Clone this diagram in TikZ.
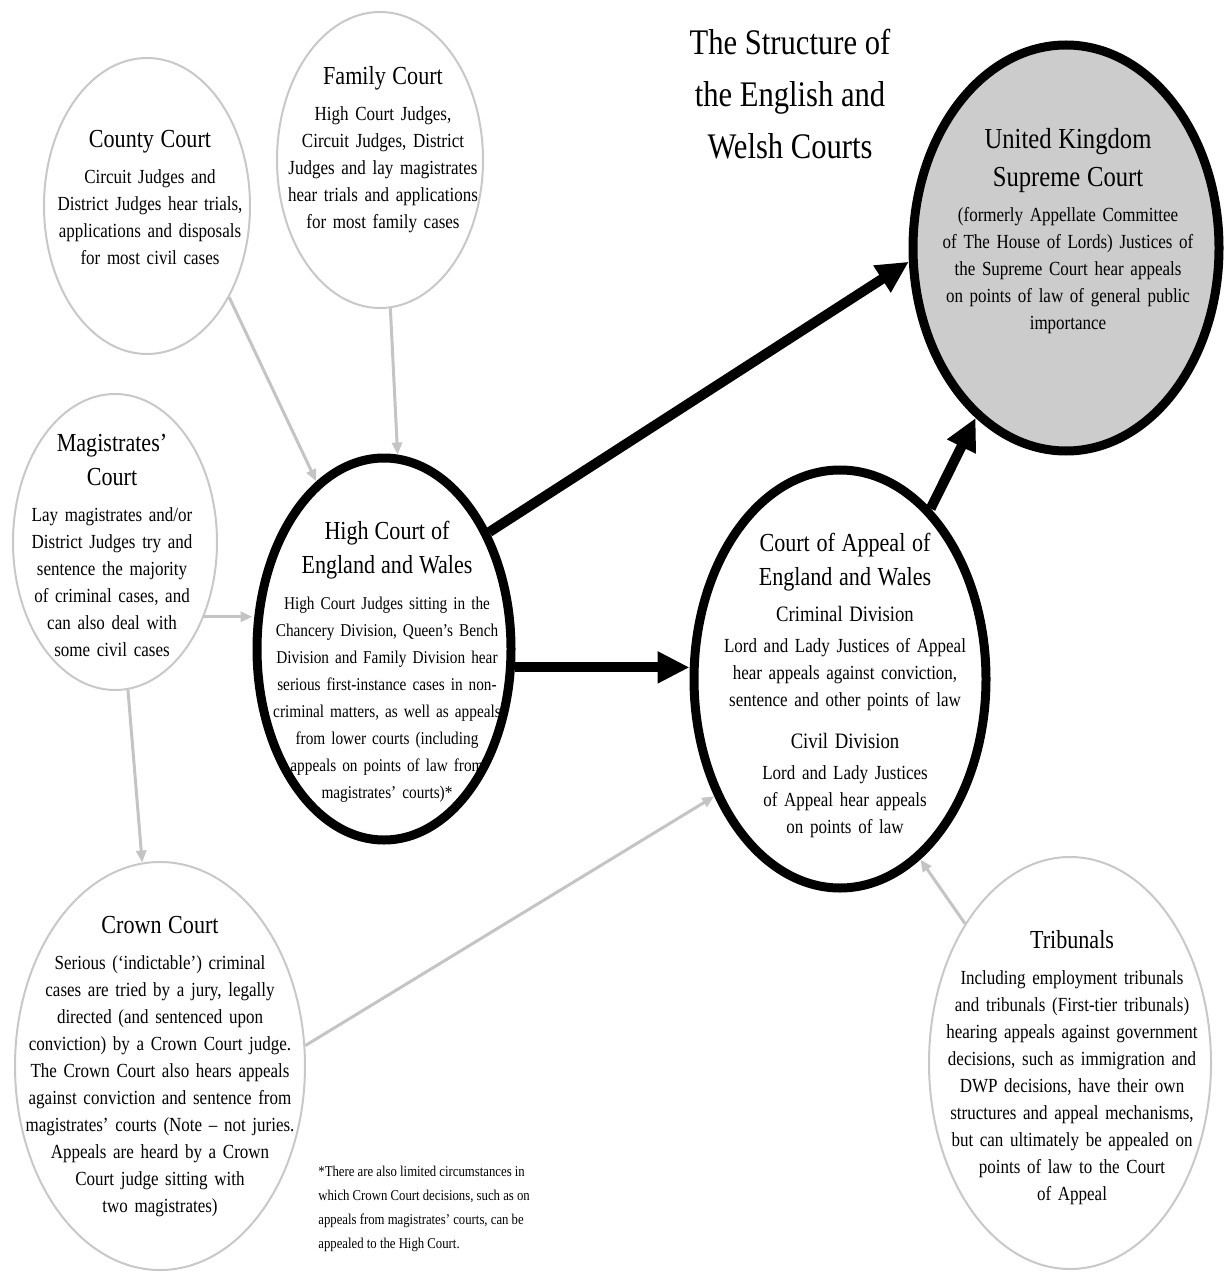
\documentclass[tikz,border=0pt]{standalone}
\usepackage{fontspec}
\setmainfont{Liberation Serif}[FakeStretch=0.85]
\usepackage{tikz}
\usetikzlibrary{shapes.geometric}
\usetikzlibrary{arrows.meta}

\definecolor{courtgrey}{RGB}{200,200,200}
\definecolor{linkgrey}{RGB}{196,196,196}
\definecolor{supremegrey}{RGB}{204,204,204}

\newcommand{\courtname}[1]{{\fontsize{13}{17}\selectfont #1\par}\vspace{4.5pt}}
\newcommand{\division}[1]{{\fontsize{11}{13.5}\selectfont #1\par}\vspace{2pt}}

\begin{document}
\begin{tikzpicture}
		[x=0.5pt, y=-0.5pt,
		court/.style={ellipse, draw=courtgrey, line width=1pt, inner sep=0pt},
		bigcourt/.style={ellipse, draw=black, line width=4.5pt, inner sep=0pt},
		courttext/.style={align=center, text width=170pt, inner sep=0pt, font=\fontsize{10}{13.5}\selectfont},
		link/.style={draw=linkgrey, line width=1.5pt, -{Triangle[length=6pt, width=5pt]}},
		bigarrow/.style={line width=5pt, -{Triangle[length=16pt, width=15pt]}}]
		\useasboundingbox (0,0) rectangle (1225,1278);

		\node[court, minimum width=103pt, minimum height=148pt] (county) at (147,206) {};
		\node[court, minimum width=103pt, minimum height=148pt] (family) at (380,160) {};
		\node[court, minimum width=102pt, minimum height=148pt] (mags) at (115,542) {};
		\node[bigcourt, minimum width=127pt, minimum height=191pt] (high) at (384,649) {};
		\node[bigcourt, minimum width=146pt, minimum height=209pt] (appeal) at (840,679) {};
		\node[bigcourt, fill=supremegrey, minimum width=153pt, minimum height=203pt] (supreme) at (1066,248) {};
		\node[court, minimum width=145pt, minimum height=204pt] (crown) at (160,1066) {};
		\node[court, minimum width=141pt, minimum height=206pt] (tribunals) at (1070,1063) {};

		\node[align=center, font=\fontsize{18}{26}\selectfont] (title) at (790,94)
			{The Structure of\\the English and\\Welsh Courts};

		\node[courttext] (countytext) at (150,197)
			{\courtname{County Court}Circuit Judges and\\District Judges hear trials,\\applications and disposals\\for most civil cases};
		\node[courttext] (familytext) at (383,150)
			{\courtname{Family Court}High Court Judges,\\Circuit Judges, District\\Judges and lay magistrates\\hear trials and applications\\for most family cases};
		\node[courttext] (magstext) at (112,545)
			{\courtname{Magistrates'\\Court}Lay magistrates and/or\\District Judges try and\\sentence the majority\\of criminal cases, and\\can also deal with\\some civil cases};
		\node[courttext, font=\fontsize{9}{13.5}\selectfont] (hightext) at (387,662)
			{\courtname{High Court of\\England and Wales}High Court Judges sitting in the\\Chancery Division, Queen's Bench\\Division and Family Division hear\\serious first-instance cases in non-\\criminal matters, as well as appeals\\from lower courts (including\\appeals on points of law from\\magistrates' courts)*};
		\node[courttext] (appealtext) at (845,685)
			{\courtname{Court of Appeal of\\England and Wales}\division{Criminal Division}Lord and Lady Justices of Appeal\\hear appeals against conviction,\\sentence and other points of law\par\vspace{7.5pt}\division{Civil Division}Lord and Lady Justices\\of Appeal hear appeals\\on points of law};
		\node[courttext] (supremetext) at (1068,231)
			{{\fontsize{14.5}{19}\selectfont United Kingdom\\Supreme Court\par}\vspace{4pt}(formerly Appellate Committee\\of The House of Lords) Justices of\\the Supreme Court hear appeals\\on points of law of general public\\importance};
		\node[courttext] (crowntext) at (160,1067)
			{\courtname{Crown Court}Serious (`indictable') criminal\\cases are tried by a jury, legally\\directed (and sentenced upon\\conviction) by a Crown Court judge.\\The Crown Court also hears appeals\\against conviction and sentence from\\magistrates' courts (Note -- not juries.\\Appeals are heard by a Crown\\Court judge sitting with\\two magistrates)};
		\node[courttext] (tribunalstext) at (1072,1068)
			{\courtname{Tribunals}Including employment tribunals\\and tribunals (First-tier tribunals)\\hearing appeals against government\\decisions, such as immigration and\\DWP decisions, have their own\\structures and appeal mechanisms,\\but can ultimately be appealed on\\points of law to the Court\\of Appeal};
		\node[align=left, anchor=west, inner sep=0pt, font=\fontsize{7.5}{12}\selectfont] (footnote) at (318,1209)
			{*There are also limited circumstances in\\which Crown Court decisions, such as on\\appeals from magistrates' courts, can be\\appealed to the High Court.};

		\draw[link] (county.-48) to (high.112);
		\draw[link] (family.-86) to (high.86);
		\draw[link] (mags.-40) to (mags.-40 -| high.west);
		\draw[link] (mags.-85) to (crown.95);
		\draw[link] (crown.8) to (appeal.223);
		\draw[link] (tribunals.127) to (appeal.-66);

		\draw[bigarrow] (high.-8) to (high.-8 -| appeal.west);
		\draw[bigarrow] (high.48) to (supreme.185);
		\draw[bigarrow] (appeal.62) to (supreme.242);
	\end{tikzpicture}
\end{document}
